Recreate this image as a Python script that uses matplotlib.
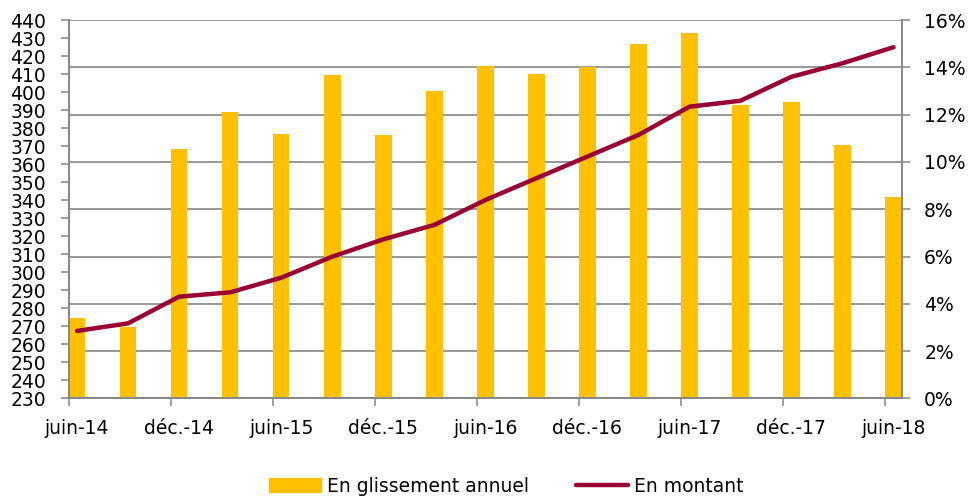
import numpy as np
import matplotlib.pyplot as plt
from matplotlib.patches import Patch
from matplotlib.lines import Line2D
from matplotlib.ticker import FuncFormatter

# ============================================================================
# Données (trimestrielles, juin-14 à juin-18)
# ============================================================================

trimestres = ["juin-14", "sept.-14", "déc.-14", "mars-15", "juin-15", "sept.-15",
              "déc.-15", "mars-16", "juin-16", "sept.-16", "déc.-16", "mars-17",
              "juin-17", "sept.-17", "déc.-17", "mars-18", "juin-18"]

# En glissement annuel (%)
glissement = [3.39, 3.01, 10.53, 12.10, 11.17, 13.66, 11.15, 13.00, 14.04,
              13.73, 14.00, 14.99, 15.46, 12.41, 12.55, 10.70, 8.50]

# En montant (échelle de gauche)
montant = [267.5, 271.7, 286.5, 288.9, 297.0, 308.7, 318.3, 326.3, 340.1,
           352.2, 364.2, 376.2, 391.9, 395.2, 408.5, 416.0, 424.9]

etiquettes_x = ["juin-14", "déc.-14", "juin-15", "déc.-15", "juin-16",
                "déc.-16", "juin-17", "déc.-17", "juin-18"]

# ============================================================================
# Graphique
# ============================================================================

gris = "#868686"
jaune = "#FFC000"
bordeaux = "#990033"

plt.rcParams["font.family"] = "DejaVu Sans"

fig = plt.figure(figsize=(9.68, 4.98), dpi=100)
ax = fig.add_axes([0.0708, 0.1998, 0.861, 0.76])
ax2 = ax.twinx()

# axe en mois : un trimestre = 3 mois, point au milieu du mois
x = np.arange(len(trimestres)) * 3 + 0.5

ax2.bar(x, np.array(glissement) / 100, width=0.98, color=jaune, zorder=2)
ax2.set_ylim(0, 0.16)
ax2.set_yticks(np.arange(0, 0.161, 0.02))
ax2.yaxis.set_major_formatter(FuncFormatter(lambda v, p: f"{v*100:.0f}%"))
ax2.grid(axis="y", color=gris, linewidth=1.2, zorder=0)
ax2.set_axisbelow(True)
ax2.tick_params(axis="y", direction="out", length=6, width=1.1, color=gris,
                labelsize=13.5, pad=10)

ax.plot(x, montant, color=bordeaux, linewidth=3.2, solid_capstyle="round", zorder=3)
ax.set_ylim(230, 440)
ax.set_yticks(np.arange(230, 441, 10))
ax.tick_params(axis="y", direction="out", length=6, width=1.1, color=gris,
               labelsize=13.5, pad=10)
ax.set_zorder(ax2.get_zorder() + 1)
ax.patch.set_visible(False)

ax.set_xlim(0, 49)
ax.set_xticks(np.arange(0, 49, 6))
ax.set_xticklabels([])
ax.set_xticks(np.arange(0, 49, 6) + 0.5, minor=True)
ax.set_xticklabels(etiquettes_x, minor=True)
ax.tick_params(axis="x", which="major", direction="out", length=6, width=1.1, color=gris)
ax.tick_params(axis="x", which="minor", length=0, labelsize=13.5, pad=15)

for a in (ax, ax2):
    a.spines["top"].set_visible(False)
    for s in ("left", "right", "bottom"):
        a.spines[s].set_color(gris)
        a.spines[s].set_linewidth(1.2)

handles = [Patch(color=jaune), Line2D([], [], color=bordeaux, linewidth=3.2, solid_capstyle="round")]
fig.legend(handles, ["En glissement annuel", "En montant"], loc="center",
           bbox_to_anchor=(0.523, 0.024), ncol=2, frameon=False, fontsize=13.5,
           handlelength=2.8, handletextpad=0.3, columnspacing=2.5)

fig.savefig("out.png", dpi=100)
plt.close()
